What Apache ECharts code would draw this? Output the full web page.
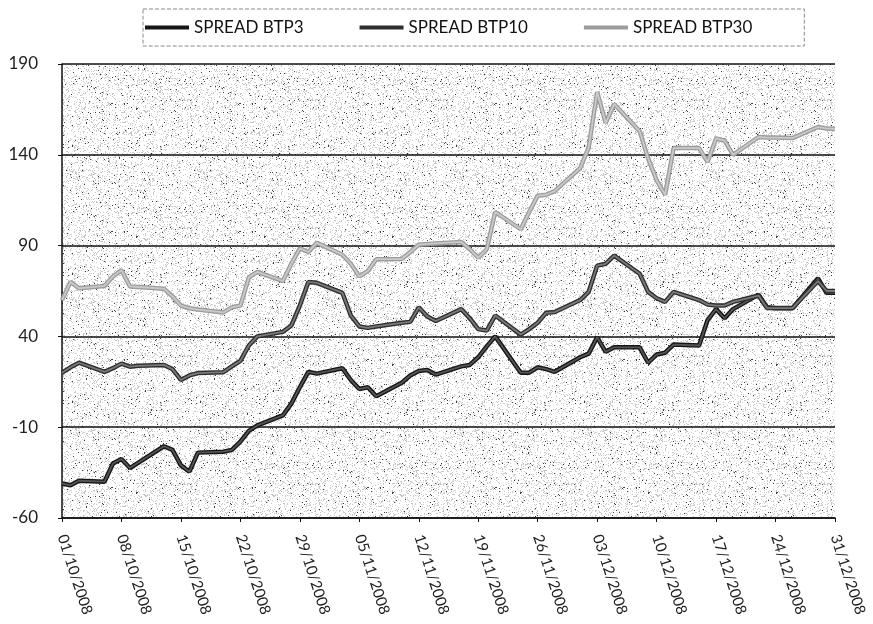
<!DOCTYPE html>
<html>
<head>
<meta charset="utf-8">
<script src="https://cdn.jsdelivr.net/npm/echarts@6/dist/echarts.min.js"></script>
<style>
html,body{margin:0;padding:0;background:#fff;}
#chart{width:873px;height:624px;}
</style>
</head>
<body>
<div id="chart"></div>
<script>
// ---- data ----
var dates = [
 '2008-10-01','2008-10-02','2008-10-03','2008-10-06','2008-10-07','2008-10-08','2008-10-09','2008-10-10',
 '2008-10-13','2008-10-14','2008-10-15','2008-10-16','2008-10-17','2008-10-20','2008-10-21','2008-10-22',
 '2008-10-23','2008-10-24','2008-10-27','2008-10-28','2008-10-29','2008-10-30','2008-10-31',
 '2008-11-03','2008-11-04','2008-11-05','2008-11-06','2008-11-07','2008-11-10','2008-11-11','2008-11-12',
 '2008-11-13','2008-11-14','2008-11-17','2008-11-18','2008-11-19','2008-11-20','2008-11-21',
 '2008-11-24','2008-11-25','2008-11-26','2008-11-27','2008-11-28',
 '2008-12-01','2008-12-02','2008-12-03','2008-12-04','2008-12-05','2008-12-08','2008-12-09','2008-12-10',
 '2008-12-11','2008-12-12','2008-12-15','2008-12-16','2008-12-17','2008-12-18','2008-12-19',
 '2008-12-22','2008-12-23','2008-12-24','2008-12-26','2008-12-29','2008-12-30','2008-12-31'
];
var btp3 = [
 -41,-42,-39.5,-40,-30,-27.5,-32.5,-29.5,
 -20.5,-22.5,-31,-34.5,-24,-23.5,-22.5,-18,
 -12,-9,-3.5,3,12,20.5,19.5,
 22.5,16,11,12,7,14.5,18.5,21,
 21.5,19,23.5,24.3,28.5,34.5,40,
 20,20,23,22,20.5,
 28.5,30.5,39.5,31.5,34,34,25.5,30,
 31,35.5,35,49,55,50,55,
 63,56,55.5,55.5,72,64,64
];
var btp10 = [
 20,23,25.5,20.5,22.5,25,23.3,23.8,
 24.3,22,16,18.5,19.8,20.3,23.5,26.5,
 35,40,42.5,46,57,70,69.5,
 64,51.5,45.5,44.7,45.5,47.5,48,56,
 51,48.5,55,50,44,43.2,51.5,
 41,44,47.5,53,53.4,
 60,64.5,79,80,84.5,74.5,64.5,61,
 59,64.5,60,57.5,57,57,59,
 62.5,55.6,55.6,55.6,70.5,65,65
];
var btp30 = [
 60,70,66.5,67.8,73,76.5,67.5,67.2,
 66.3,62,57,55.5,54.8,53.2,56,57,
 72.5,75.5,70.5,80,88.5,86.5,91.5,
 85,80,73,76,82.5,82.6,86.5,90.5,
 90.9,91.2,92,88,83.3,88,108.5,
 99,108.5,117.5,118,120,
 132.7,144,174.6,157.5,168,153,138,126,
 118,143.7,143.7,136,149,147.8,140,
 149.8,149.5,149.5,149.2,155.3,154.5,154.2
];
var yTicks = [-60, -10, 40, 90, 140, 190];
var seriesNames = ['SPREAD BTP3', 'SPREAD BTP10', 'SPREAD BTP30'];

// ---- helpers ----
var t0 = Date.UTC(2008, 9, 1);
function dayIndex(s) {
  var p = s.split('-');
  return Math.round((Date.UTC(+p[0], +p[1] - 1, +p[2]) - t0) / 86400000);
}
function pad(n) { return (n < 10 ? '0' : '') + n; }
function dayLabel(v) {
  var d = new Date(t0 + v * 86400000);
  return pad(d.getUTCDate()) + '/' + pad(d.getUTCMonth() + 1) + '/' + d.getUTCFullYear();
}
function pairs(vals) {
  return dates.map(function (s, i) { return [dayIndex(s), vals[i]]; });
}

// stippled background texture (deterministic)
function makeStipple() {
  var c = document.createElement('canvas');
  c.width = 128; c.height = 128;
  var ctx = c.getContext('2d');
  var img = ctx.createImageData(128, 128);
  for (var y = 0; y < 128; y++) {
    for (var x = 0; x < 128; x++) {
      var n = Math.imul(x, 374761393) + Math.imul(y, 668265263);
      n = Math.imul(n ^ (n >>> 13), 1274126177);
      n = (n ^ (n >>> 16)) >>> 0;
      var r = n / 4294967296;
      var g = r < 0.02 ? 60 : (r < 0.18 ? 200 : 255);
      var k = (y * 128 + x) * 4;
      img.data[k] = g; img.data[k + 1] = g; img.data[k + 2] = g; img.data[k + 3] = 255;
    }
  }
  ctx.putImageData(img, 0, 0);
  return c;
}

var outer = ['#151515', '#2e2e2e', '#9c9c9c'];
var inner = ['#555555', '#7a7a7a', '#cacaca'];
var allVals = [btp3, btp10, btp30];

var series = [];
allVals.forEach(function (vals, i) {
  series.push({
    name: seriesNames[i], type: 'line', data: pairs(vals), symbol: 'none',
    lineStyle: { color: outer[i], width: 4.5 }, itemStyle: { color: outer[i] },
    z: 2 + i * 2, animation: false
  });
  series.push({
    name: seriesNames[i], type: 'line', data: pairs(vals), symbol: 'none',
    lineStyle: { color: inner[i], width: 1.8 }, itemStyle: { color: inner[i] },
    z: 3 + i * 2, animation: false
  });
});

var chart = echarts.init(document.getElementById('chart'), null, { renderer: 'canvas' });
chart.setOption({
  backgroundColor: '#ffffff',
  animation: false,
  legend: {
    data: seriesNames.map(function (n, i) {
      return { name: n, icon: 'rect', itemStyle: { color: outer[i] } };
    }),
    left: 143, top: 9, width: 640,
    padding: [10, 52, 10, 2],
    itemGap: 56,
    itemWidth: 44, itemHeight: 4,
    borderColor: '#8a8a8a', borderWidth: 1, borderType: 'dashed',
    textStyle: { fontFamily: 'Lato', fontSize: 17, color: '#111' }
  },
  grid: {
    show: true, left: 62, right: 38, top: 64, bottom: 106,
    backgroundColor: { image: makeStipple(), repeat: 'repeat' },
    borderWidth: 0
  },
  xAxis: {
    type: 'value', min: 0, max: 91, interval: 7,
    axisLine: { onZero: false, lineStyle: { color: '#111', width: 1.5 } },
    axisTick: { show: true, length: 4, lineStyle: { color: '#111' } },
    splitLine: { show: false },
    axisLabel: {
      rotate: -72, margin: 17, color: '#222', fontFamily: 'Lato', fontSize: 15,
      formatter: function (v) { return dayLabel(v); }
    }
  },
  yAxis: {
    type: 'value', min: yTicks[0], max: yTicks[yTicks.length - 1], interval: 50,
    axisLine: { show: true, lineStyle: { color: '#111', width: 1.5 } },
    axisTick: { show: true, length: 4, lineStyle: { color: '#111' } },
    splitLine: { show: true, lineStyle: { color: '#111', width: 1.5 } },
    axisLabel: { margin: 24, color: '#222', fontFamily: 'Lato', fontSize: 17 }
  },
  series: series
});
</script>
</body>
</html>
